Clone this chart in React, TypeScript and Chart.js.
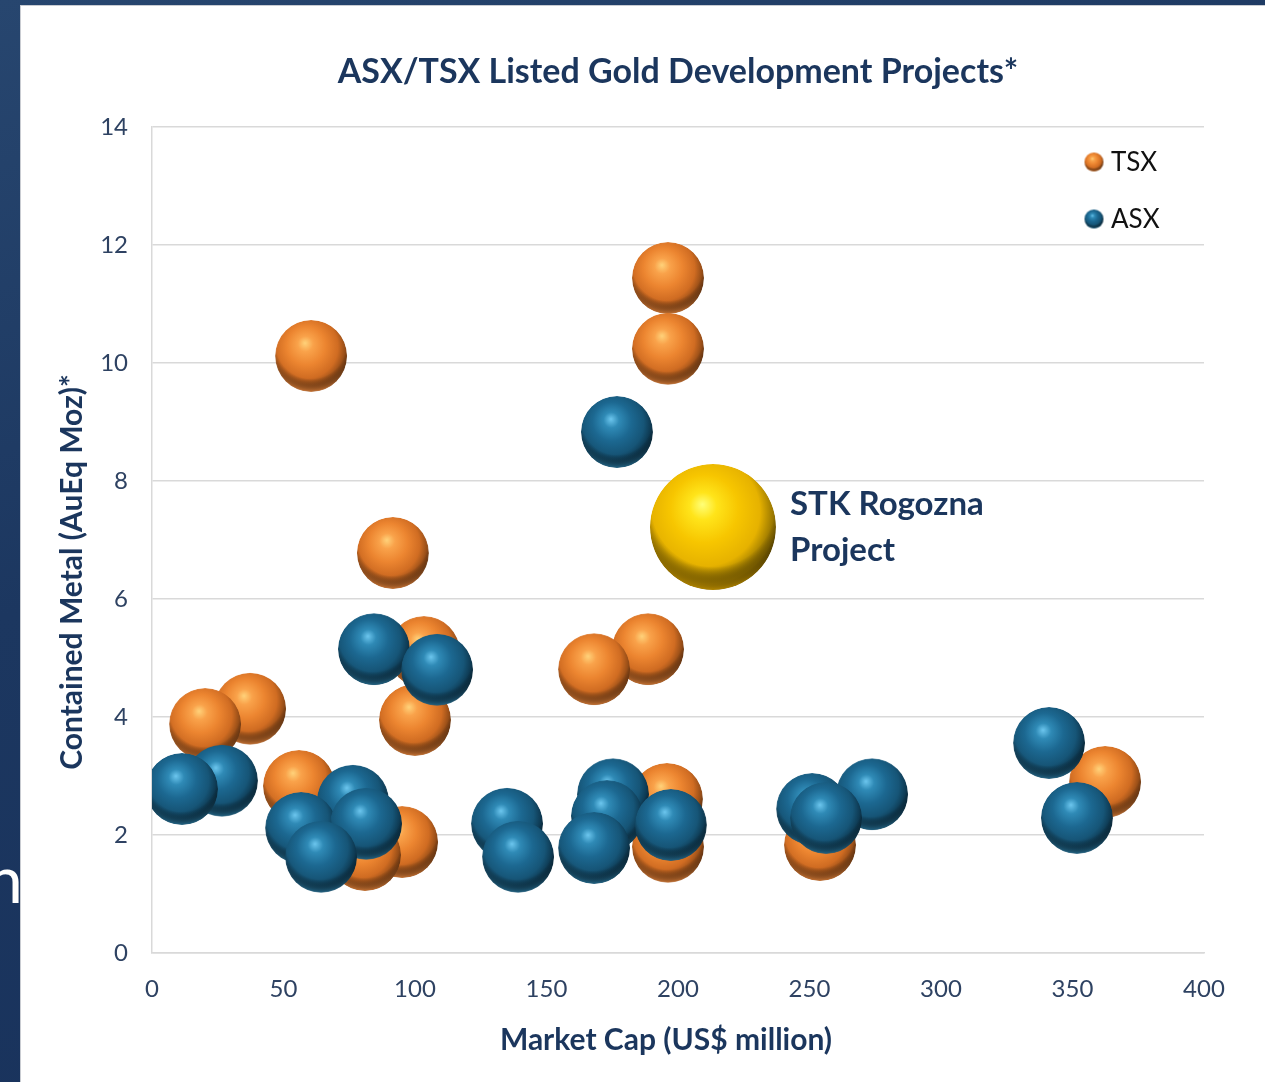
import React, { useEffect, useRef } from "react";
import { Chart, registerables } from "chart.js";

Chart.register(...registerables);

// ---------- data ----------
const CHART_TITLE = "ASX/TSX Listed Gold Development Projects*";
const X_TITLE = "Market Cap (US$ million)";
const Y_TITLE = "Contained Metal (AuEq Moz)*";
const X_TICKS = [0, 50, 100, 150, 200, 250, 300, 350, 400];
const Y_TICKS = [0, 2, 4, 6, 8, 10, 12, 14];

const TSX_LABEL = "TSX";
const TSX_X = [60.5, 196.2, 196.2, 91.6, 103.4, 100.0, 37.3, 20.2, 188.6, 168.1, 55.9, 95.1, 81.0, 195.8, 196.2, 254.0, 362.4];
const TSX_Y = [10.12, 11.44, 10.24, 6.78, 5.10, 3.95, 4.14, 3.88, 5.15, 4.81, 2.83, 1.88, 1.66, 2.61, 1.80, 1.83, 2.90];

const ASX_LABEL = "ASX";
const ASX_X = [176.8, 84.4, 108.4, 26.6, 11.4, 76.4, 56.7, 81.4, 64.3, 135.0, 139.2, 175.3, 173.0, 168.1, 197.3, 251.0, 273.8, 256.3, 341.1, 351.7];
const ASX_Y = [8.83, 5.15, 4.80, 2.92, 2.78, 2.58, 2.12, 2.19, 1.63, 2.19, 1.63, 2.69, 2.32, 1.78, 2.17, 2.44, 2.69, 2.29, 3.56, 2.29];

const STK_LABEL_LINES = ["STK Rogozna", "Project"];
const STK_X = [213.3];
const STK_Y = [7.22];

const BUBBLE_R = 36;
const STK_R = 63;

// ---------- styling ----------
const FONT = "Lato, 'Open Sans', sans-serif";
const NAVY = "#1b365d";
const TICK_COLOR = "#2e4262";
const GRID = "#d9d9d9";

type Shade = { hi: string; light: string; base: string; mid: string; dark: string; deep: string; rim: string };
const ORANGE: Shade = { hi: "#ffd27a", light: "#f9a24a", base: "#ec8530", mid: "#d06c22", dark: "#834314", deep: "#5a2d0c", rim: "rgba(240,140,64,0.95)" };
const BLUE: Shade = { hi: "#6cc6ee", light: "#2f8ab6", base: "#1c6891", mid: "#165577", dark: "#0b3045", deep: "#061e2c", rim: "rgba(44,124,164,0.95)" };
const GOLD: Shade = { hi: "#ffff78", light: "#ffe41a", base: "#f7c600", mid: "#e6b200", dark: "#866800", deep: "#382c00", rim: "rgba(214,160,0,0.95)" };

function makeSphere(r: number, c: Shade): HTMLCanvasElement {
  const s = Math.ceil(r * 2) + 2;
  const cv = document.createElement("canvas");
  cv.width = s;
  cv.height = s;
  const g = cv.getContext("2d")!;
  const cx = s / 2;
  const cy = s / 2;
  g.save();
  g.beginPath();
  g.arc(cx, cy, r, 0, Math.PI * 2);
  g.closePath();
  g.clip();
  const grad = g.createRadialGradient(cx - 0.17 * r, cy - 0.36 * r, 0, cx - 0.1 * r, cy - 0.2 * r, 1.2 * r);
  grad.addColorStop(0, c.hi);
  grad.addColorStop(0.18, c.light);
  grad.addColorStop(0.45, c.base);
  grad.addColorStop(0.72, c.mid);
  grad.addColorStop(0.93, c.dark);
  grad.addColorStop(1, c.deep);
  g.fillStyle = grad;
  g.fillRect(0, 0, s, s);
  const rim = g.createRadialGradient(cx, cy - 0.35 * r, 0.98 * r, cx, cy - 0.35 * r, 1.38 * r);
  rim.addColorStop(0, "rgba(0,0,0,0)");
  rim.addColorStop(1, c.rim);
  g.fillStyle = rim;
  g.fillRect(0, 0, s, s);
  g.restore();
  return cv;
}

function sphereFill(sphere: HTMLCanvasElement, fallback: string) {
  return (ctx: any) => {
    if (ctx.type !== "data") return fallback;
    const chart = ctx.chart;
    const xs = chart.scales?.x;
    const ys = chart.scales?.y;
    const raw = ctx.raw;
    if (!xs || !ys || !raw) return fallback;
    const px = xs.getPixelForValue(raw.x);
    const py = ys.getPixelForValue(raw.y);
    const pat = chart.ctx.createPattern(sphere, "no-repeat");
    if (!pat) return fallback;
    pat.setTransform(new DOMMatrix().translate(px - sphere.width / 2, py - sphere.height / 2));
    return pat;
  };
}

export default function App() {
  const ref = useRef<HTMLCanvasElement | null>(null);

  useEffect(() => {
    document.body.style.margin = "0";
    const canvas = ref.current;
    if (!canvas) return;

    const orangeSphere = makeSphere(BUBBLE_R, ORANGE);
    const blueSphere = makeSphere(BUBBLE_R, BLUE);
    const goldSphere = makeSphere(STK_R, GOLD);
    const orangeMini = makeSphere(9.5, ORANGE);
    const blueMini = makeSphere(9.5, BLUE);

    const tsxData = TSX_X.map((x, i) => ({ x, y: TSX_Y[i], r: BUBBLE_R }));
    const asxData = ASX_X.map((x, i) => ({ x, y: ASX_Y[i], r: BUBBLE_R }));
    const stkData = STK_X.map((x, i) => ({ x, y: STK_Y[i], r: STK_R }));

    const overlay = {
      id: "overlay",
      afterDraw(chart: any) {
        const { ctx, chartArea: ca, scales } = chart;
        ctx.save();
        // legend
        const legendItems = [
          { label: TSX_LABEL, mini: orangeMini, dy: 35 },
          { label: ASX_LABEL, mini: blueMini, dy: 92 },
        ];
        ctx.font = `400 26px ${FONT}`;
        ctx.fillStyle = "#111111";
        ctx.textBaseline = "middle";
        ctx.textAlign = "left";
        for (const it of legendItems) {
          const cx = ca.right - 110;
          const cy = ca.top + it.dy;
          ctx.drawImage(it.mini, cx - it.mini.width / 2, cy - it.mini.height / 2);
          ctx.fillText(it.label, ca.right - 93, cy + 1);
        }
        // STK label
        const gx = scales.x.getPixelForValue(STK_X[0]);
        const gy = scales.y.getPixelForValue(STK_Y[0]);
        ctx.font = `700 33px ${FONT}`;
        ctx.fillStyle = NAVY;
        ctx.fillText(STK_LABEL_LINES[0], gx + 77, gy - 23);
        ctx.fillText(STK_LABEL_LINES[1], gx + 77, gy + 23);
        // axis titles
        ctx.font = `700 30px ${FONT}`;
        ctx.textAlign = "center";
        ctx.fillText(X_TITLE, (ca.left + ca.right) / 2 - 12, ca.bottom + 87);
        ctx.save();
        ctx.translate(ca.left - 80, (ca.top + ca.bottom) / 2 + 32);
        ctx.rotate(-Math.PI / 2);
        ctx.fillText(Y_TITLE, 0, 0);
        ctx.restore();
        ctx.restore();
      },
    };

    const chart = new Chart(canvas, {
      type: "bubble",
      data: {
        datasets: [
          { label: TSX_LABEL, data: tsxData, backgroundColor: sphereFill(orangeSphere, ORANGE.base) as any, borderWidth: 0, hoverBorderWidth: 0, clip: 0, order: 3 },
          { label: ASX_LABEL, data: asxData, backgroundColor: sphereFill(blueSphere, BLUE.base) as any, borderWidth: 0, hoverBorderWidth: 0, clip: 0, order: 2 },
          { label: STK_LABEL_LINES.join(" "), data: stkData, backgroundColor: sphereFill(goldSphere, GOLD.base) as any, borderWidth: 0, hoverBorderWidth: 0, order: 1 },
        ],
      },
      plugins: [overlay],
      options: {
        animation: false,
        responsive: false,
        devicePixelRatio: 1,
        events: [],
        layout: { autoPadding: false, padding: { left: 0, right: 61, top: 0, bottom: 0 } },
        plugins: {
          legend: { display: false },
          tooltip: { enabled: false },
          title: {
            display: true,
            text: CHART_TITLE,
            fullSize: false,
            color: NAVY,
            font: { family: FONT, size: 34, weight: "bold" },
            padding: { top: 46, bottom: 34.2 },
          },
        },
        scales: {
          x: {
            type: "linear",
            min: 0,
            max: 400,
            afterBuildTicks: (s: any) => { s.ticks = X_TICKS.map((v) => ({ value: v })); },
            afterFit: (s: any) => { s.height = 129; },
            grid: { display: false, drawTicks: false },
            border: { display: true, color: GRID, width: 1.5 },
            ticks: { color: TICK_COLOR, font: { family: FONT, size: 24 }, padding: 22, maxRotation: 0 },
          },
          y: {
            type: "linear",
            min: 0,
            max: 14,
            afterBuildTicks: (s: any) => { s.ticks = Y_TICKS.map((v) => ({ value: v })); },
            afterFit: (s: any) => { s.width = 131; },
            grid: { color: GRID, lineWidth: 1.5, drawTicks: false },
            border: { display: true, color: GRID, width: 1.5 },
            ticks: { color: TICK_COLOR, font: { family: FONT, size: 24 }, padding: 24 },
          },
        },
      },
    } as any);

    return () => chart.destroy();
  }, []);

  return (
    <div style={{ position: "relative", width: 1265, height: 1082, overflow: "hidden", background: "linear-gradient(160deg, #27466f 0%, #1c3760 40%, #17305a 100%)" }}>
      <div style={{ position: "absolute", left: -14, top: 838, color: "#ffffff", font: `400 66px ${FONT}`, lineHeight: "80px" }}>n</div>
      <div style={{ position: "absolute", left: 20, top: 5, width: 1245, height: 1077, boxSizing: "border-box", borderLeft: "1px solid #c9ccd2", borderTop: "1px solid #c9ccd2", background: "#ffffff" }}>
        <canvas ref={ref} width={1244} height={1076} style={{ display: "block", width: 1244, height: 1076 }} />
      </div>
    </div>
  );
}
